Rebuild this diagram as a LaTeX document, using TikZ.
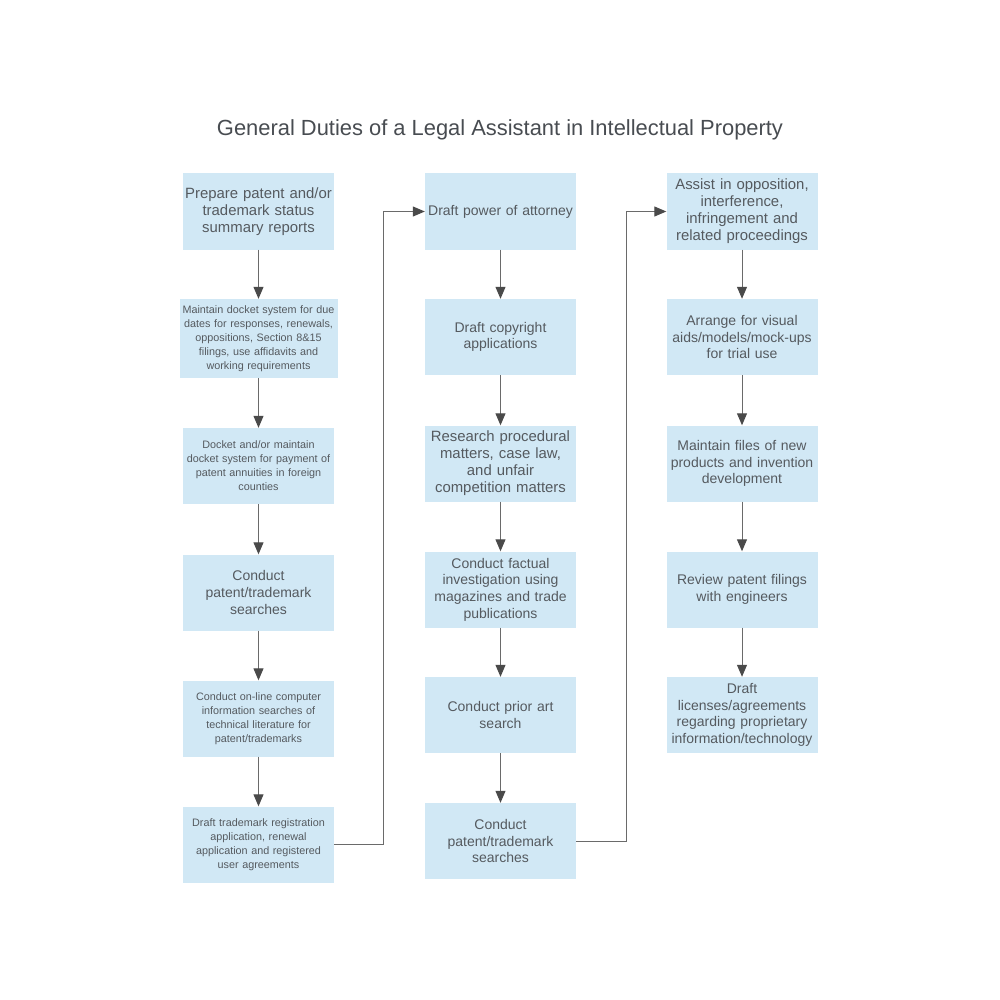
\documentclass[tikz,border=0pt]{standalone}
\usepackage{fontspec}
\setmainfont{Liberation Sans}
\usetikzlibrary{arrows.meta}
\definecolor{boxblue}{HTML}{D1E8F5}
\definecolor{txtgray}{HTML}{555A5F}
\definecolor{linegray}{HTML}{6A6A6A}
\definecolor{tipgray}{HTML}{4A4A4A}

\begin{document}
\begin{tikzpicture}[x=1pt,y=-1pt,
    every node/.style={fill=boxblue,text=txtgray,align=center,inner sep=0pt,
        minimum width=151pt,minimum height=76pt},
    big/.style={font=\fontsize{14}{16.6}\selectfont,text width=150pt},
    bigger/.style={font=\fontsize{14.9}{17}\selectfont,text width=150pt},
    small/.style={font=\fontsize{10.8}{14}\selectfont,text width=150pt},
    flow/.style={draw=linegray,line width=1pt,-{Triangle[length=12pt,width=10pt,color=tipgray]}}]
            \useasboundingbox (0,0) rectangle (1000,1000);
            \node[fill=none,minimum width=0pt,minimum height=0pt,text=txtgray!85!black,
                font=\fontsize{21.9}{26}\selectfont] (title) at (500,130)
                {General Duties of a Legal Assistant in Intellectual Property};

            % first column
            \node[bigger] (A1) at (258.5,211.5) {Prepare patent and/or\\trademark status\\summary reports};
            \node[small,text width=156pt,minimum width=158pt,minimum height=79pt] (A2) at (258.5,338.5)
                {Maintain docket system for due\\dates for responses, renewals,\\oppositions, Section 8\&15\\filings, use affidavits and\\working requirements};
            \node[small] (A3) at (258.5,466) {Docket and/or maintain\\docket system for payment of\\patent annuities in foreign\\counties};
            \node[big] (A4) at (258.5,592.5) {Conduct\\patent/trademark\\searches};
            \node[small] (A5) at (258.5,718.5) {Conduct on-line computer\\information searches of\\technical literature for\\patent/trademarks};
            \node[small] (A6) at (258.5,844.5) {Draft trademark registration\\application, renewal\\application and registered\\user agreements};

            % second column
            \node[big] (B1) at (500.5,211.5) {Draft power of attorney};
            \node[big] (B2) at (500.5,337) {Draft copyright\\applications};
            \node[bigger] (B3) at (500.5,463.5) {Research procedural\\matters, case law,\\and unfair\\competition matters};
            \node[big] (B4) at (500.5,589.5) {Conduct factual\\investigation using\\magazines and trade\\publications};
            \node[big] (B5) at (500.5,715) {Conduct prior art\\search};
            \node[big] (B6) at (500.5,841) {Conduct\\patent/trademark\\searches};

            % third column
            \node[bigger] (C1) at (742,211.5) {Assist in opposition,\\interference,\\infringement and\\related proceedings};
            \node[big] (C2) at (742,337) {Arrange for visual\\aids/models/mock-ups\\for trial use};
            \node[big] (C3) at (742,463.5) {Maintain files of new\\products and invention\\development};
            \node[big] (C4) at (742,589.5) {Review patent filings\\with engineers};
            \node[big] (C5) at (742,715) {Draft\\licenses/agreements\\regarding proprietary\\information/technology};

            \foreach \c/\n in {A/5,B/5,C/4}{
                \foreach \i [evaluate={\j=int(\i+1)}] in {1,...,\n}{
                    \draw[flow] (\c\i) -- (\c\j);
                }
            }
            \draw[flow] (A6.east) -- ++(49,0) |- (B1.west);
            \draw[flow] (B6.east) -- ++(50,0) |- (C1.west);
        \end{tikzpicture}
\end{document}
